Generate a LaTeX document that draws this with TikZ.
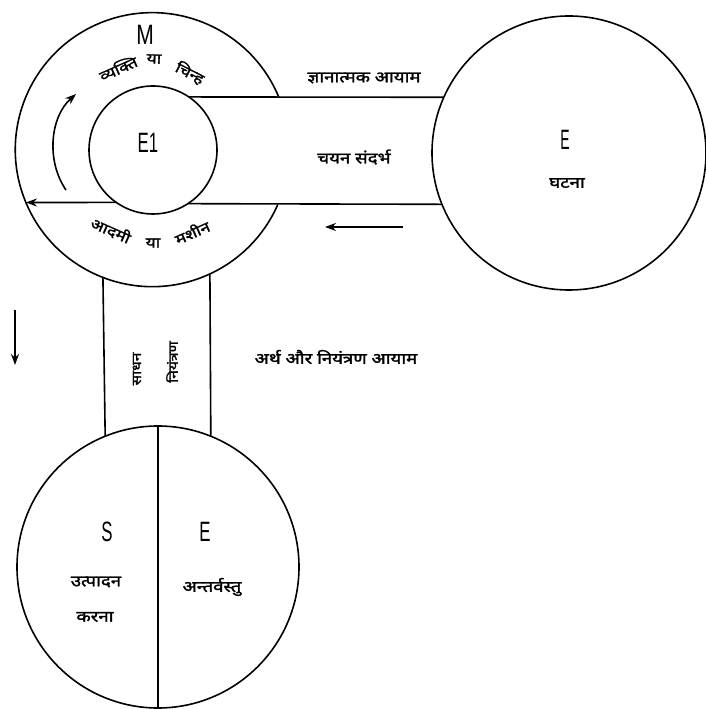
\documentclass[tikz,border=0pt]{standalone}
\usepackage{fontspec}
\setmainfont{Liberation Sans}
\newfontfamily\dev[Script=Devanagari,FakeBold=1.6]{Noto Sans}
\usetikzlibrary{arrows.meta}
\newcommand\hxw[1]{\scalebox{1.2}[1]{#1}}
\begin{document}
\begin{tikzpicture}[x=1pt,y=1pt,
  ln/.style={line width=1.6pt},
  ring/.style={circle,inner sep=0pt,outer sep=0pt},
  arr/.style={ln,-{Stealth[length=11pt,width=8pt]}},
  lat/.style={font=\fontsize{28}{28}\selectfont, inner sep=0pt},
  hin/.style={font=\dev\fontsize{15.5}{17}\selectfont, inner sep=0pt},
  hinarc/.style={font=\dev\fontsize{14.5}{16}\selectfont, inner sep=0pt},
  hinv/.style={font=\dev\fontsize{13}{15}\selectfont, inner sep=0pt},
]
\useasboundingbox (0,0) rectangle (706,709);
\fill[white] (0,0) rectangle (706,709);

% circles
\node[ring,minimum size=274pt] (M) at (152,560) {};
\node[ring,draw,ln,minimum size=128pt] (E1) at (153,559) {};
\node[ring,draw,ln,minimum size=274pt] (Ev) at (569,556) {};
\node[ring,draw,ln,minimum size=282pt] (S) at (158,142) {};

% outer ring of M, open towards the event
\draw[ln] (M.22.3) arc[start angle=22.3,end angle=336.3,radius=137];

% horizontal corridor
\draw[ln] (E1.56) -- (Ev.156);
\draw[ln] (E1.303) -- (Ev.202);

% vertical corridor
\draw[ln] (M.249.5) -- (S.112.5);
\draw[ln] (M.295) -- (S.68.2);

% divider of S/E circle
\draw[ln] (S.north) -- (S.south);

% arrows
\draw[arr] (E1.235) -- (M.203);
\coordinate (c1) at (66,519);
\coordinate (c2) at (76,615);
\draw[arr] (c1) .. controls (46,548) and (50,592) .. (c2);
\coordinate (a1) at (403,482);
\coordinate (a2) at (325,482);
\draw[arr] (a1) -- (a2);
\coordinate (d1) at (15,399);
\coordinate (d2) at (15,344);
\draw[arr] (d1) -- (d2);

% Latin labels
\node[lat] (tM) at (145,674) {\scalebox{0.75}[1]{M}};
\node[lat] (tE1) at (148,566) {\scalebox{0.6}[1]{E1}};
\node[lat] (tE) at (565,569) {\scalebox{0.5}[1]{E}};
\node[lat] (tS) at (107,177) {\scalebox{0.6}[1]{S}};
\node[lat] (tE2) at (205,177) {\scalebox{0.6}[1]{E}};

% Devanagari labels
\node[hinarc,rotate=24] (w1) at (118,641) {\hxw{व्यक्ति}};
\node[hinarc,rotate=-2] (w2) at (154,650) {\hxw{या}};
\node[hinarc,rotate=-27] (w3) at (190,636) {\hxw{चिन्ह}};

\node[hinarc,rotate=-24] (b1) at (111,479) {\hxw{आदमी}};
\node[hinarc] (b2) at (153,466) {\hxw{या}};
\node[hinarc,rotate=24] (b3) at (192,477) {\hxw{मशीन}};

\node[hin] (g1) at (364,631) {\hxw{ज्ञानात्मक आयाम}};
\node[hin] (g2) at (354,552) {\hxw{चयन संदर्भ}};
\node[hin] (g3) at (567,526) {\hxw{घटना}};

\node[hinv,rotate=90] (v1) at (137,340) {\hxw{साधन}};
\node[hinv,rotate=90] (v2) at (172,347) {\hxw{नियंत्रण}};
\node[hin] (g4) at (336,352) {\hxw{अर्थ और नियंत्रण आयाम}};

\node[hin] (s1) at (96,127) {\hxw{उत्पादन}};
\node[hin] (s2) at (95,92) {\hxw{करना}};
\node[hin] (s3) at (212,122) {\hxw{अन्तर्वस्तु}};
\end{tikzpicture}
\end{document}
